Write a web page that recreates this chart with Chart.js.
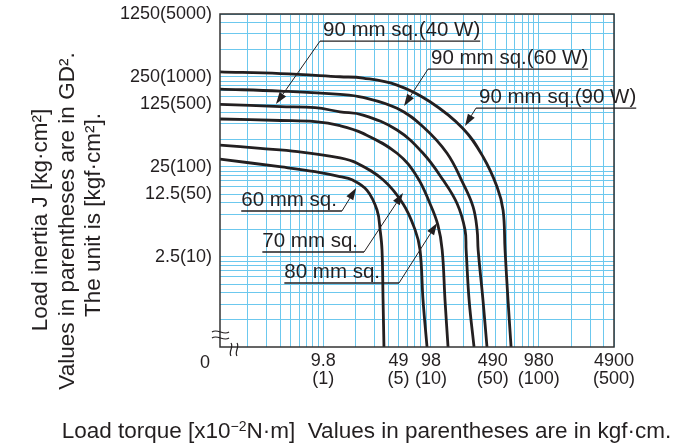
<!DOCTYPE html>
<html>
<head>
<meta charset="utf-8">
<script src="https://cdn.jsdelivr.net/npm/chart.js@4/dist/chart.umd.min.js"></script>
<style>
  html, body { margin: 0; padding: 0; background: #fff; }
  #wrap { width: 681px; height: 446px; position: relative; }
</style>
</head>
<body>
<div id="wrap"><canvas id="myChart"></canvas></div>
<script>
// x: load torque in kgf·cm, y: load inertia as GD² in kgf·cm²
const torqueTicks = [1, 5, 10, 50, 100, 500];
const torqueNmLabels = ['9.8', '49', '98', '490', '980', '4900'];
const torqueKgfLabels = ['(1)', '(5)', '(10)', '(50)', '(100)', '(500)'];
const inertiaTicks = [10, 50, 100, 500, 1000, 5000];
const inertiaLabels = ['2.5(10)', '12.5(50)', '25(100)', '125(500)', '250(1000)', '1250(5000)'];

const seriesNames = ['60 mm sq.', '70 mm sq.', '80 mm sq.', '90 mm sq.(40 W)', '90 mm sq.(60 W)', '90 mm sq.(90 W)'];

const sq60Torque = [0.11, 0.41, 0.84, 1.43, 1.85, 2.55, 3.16, 3.37, 3.51, 3.59, 3.66];
const sq60Gd2 = [122, 100, 88.5, 78, 72, 55, 33, 20, 12, 3.3, 1];

const sq70Torque = [0.11, 0.26, 0.58, 1.43, 2.06, 3.59, 5.5, 7.12, 7.91, 8.44, 9.19];
const sq70Gd2 = [175, 161, 148, 126, 110, 72, 39, 20, 12, 3.3, 1];

const sq80Torque = [0.11, 0.4, 0.84, 1.43, 2.34, 4.84, 7.42, 9.8, 11.6, 12.7, 13.5, 14.4];
const sq80Gd2 = [341, 328, 318, 287, 236, 142, 78, 39, 22.6, 12, 3.3, 1];

const sq90w40Torque = [0.11, 0.4, 0.84, 1.43, 2.34, 4.84, 8.44, 12.9, 17.5, 20.7, 21.2, 22.6, 25.1];
const sq90w40Gd2 = [496, 469, 455, 410, 377, 257, 142, 72, 39, 20, 12, 3.3, 1];

const sq90w60Torque = [0.11, 0.4, 1.43, 2.34, 4.84, 8.44, 14.1, 19.8, 24.6, 26.8, 27.4, 30.4, 33.1];
const sq90w60Gd2 = [733, 697, 641, 593, 448, 280, 142, 66, 36, 20, 12, 3.3, 1];

const sq90w90Torque = [0.11, 0.4, 1.43, 2.34, 4.84, 9.8, 19.8, 30.4, 41.1, 46.7, 48.7, 51.9, 55.4];
const sq90w90Gd2 = [1140, 1090, 1005, 972, 812, 530, 268, 130, 60, 33, 12, 3.3, 1];

const ink = '#231f20';
const gridBlue = '#6cc8ee';
const family = '"Liberation Sans", Arial, Helvetica, sans-serif';
const font = size => `${size}px ${family}`;

Chart.defaults.font.family = family;
Chart.defaults.color = ink;

function gridValues(from, to) {
  const out = [];
  for (let e = -2; e <= 4; e++) {
    for (let m = 1; m <= 9; m++) {
      const v = +(m * Math.pow(10, e)).toPrecision(6);
      if (v >= from && v <= to) out.push(v);
    }
  }
  return out;
}

function pairs(xs, ys) {
  return xs.map((x, i) => ({ x: x, y: ys[i] }));
}

// callout labels, placed in data space (torque, GD²)
const callouts = [
  { text: '90 mm sq.(40 W)', at: [0.933, 2500], tip: [0.364, 500], side: 'left' },
  { text: '90 mm sq.(60 W)', at: [9.39, 1223], tip: [5.62, 475], side: 'left' },
  { text: '90 mm sq.(90 W)', at: [26.2, 451], tip: [20.7, 285], side: 'left' },
  { text: '60 mm sq.', at: [1.49, 32.4], tip: [2.02, 58.3], side: 'right', gap: 5 },
  { text: '70 mm sq.', at: [2.39, 11.35], tip: [5.5, 51.3], side: 'right', gap: 6 },
  { text: '80 mm sq.', at: [5.05, 5.14], tip: [11.4, 23.8], side: 'right', gap: 19 }
];

function squiggleH(ctx, x0, y, len) {
  ctx.beginPath();
  ctx.moveTo(x0, y);
  ctx.bezierCurveTo(x0 + len / 3, y - 4, x0 + 2 * len / 3, y + 4, x0 + len, y);
  ctx.stroke();
}
function squiggleV(ctx, x, y0, len) {
  ctx.beginPath();
  ctx.moveTo(x, y0);
  ctx.bezierCurveTo(x + 3, y0 + len / 3, x - 3, y0 + 2 * len / 3, x, y0 + len);
  ctx.stroke();
}

const decorations = {
  id: 'decorations',
  afterDraw(chart) {
    const { ctx, chartArea: a, scales: { x, y } } = chart;
    ctx.save();

    // frame
    ctx.strokeStyle = '#333';
    ctx.lineWidth = 1.5;
    ctx.strokeRect(a.left, a.top, a.right - a.left, a.bottom - a.top);

    // axis break marks at the origin
    ctx.lineWidth = 1.2;
    ctx.strokeStyle = ink;
    squiggleH(ctx, a.left - 8, a.bottom - 15, 17);
    squiggleH(ctx, a.left - 8, a.bottom - 9, 17);
    squiggleV(ctx, a.left + 11, a.bottom - 4, 13);
    squiggleV(ctx, a.left + 17, a.bottom - 4, 13);

    ctx.fillStyle = ink;
    ctx.font = font(18);
    ctx.textAlign = 'center';
    ctx.textBaseline = 'middle';
    ctx.fillText('0', a.left - 15, a.bottom + 16);

    // callouts
    ctx.font = font(20.5);
    ctx.textBaseline = 'alphabetic';
    ctx.textAlign = 'left';
    callouts.forEach(c => {
      const ax = x.getPixelForValue(c.at[0]), ay = y.getPixelForValue(c.at[1]);
      const tx = x.getPixelForValue(c.tip[0]), ty = y.getPixelForValue(c.tip[1]);
      const w = ctx.measureText(c.text).width;
      let x0, x1, textX;
      if (c.side === 'left') {
        x0 = ax; x1 = ax + w + 3; textX = ax + 3;
      } else {
        x1 = ax; x0 = ax - w - c.gap; textX = x0;
      }
      ctx.lineWidth = 1.3;
      ctx.beginPath(); ctx.moveTo(x0, ay); ctx.lineTo(x1, ay); ctx.stroke();
      ctx.fillText(c.text, textX, ay - 5);

      const ang = Math.atan2(ty - ay, tx - ax);
      const len = 12, half = 4;
      const bx = tx - len * Math.cos(ang), by = ty - len * Math.sin(ang);
      ctx.lineWidth = 1;
      ctx.beginPath(); ctx.moveTo(ax, ay); ctx.lineTo(bx, by); ctx.stroke();
      ctx.beginPath();
      ctx.moveTo(tx, ty);
      ctx.lineTo(bx + half * Math.sin(ang), by - half * Math.cos(ang));
      ctx.lineTo(bx - half * Math.sin(ang), by + half * Math.cos(ang));
      ctx.closePath();
      ctx.fill();
    });

    // x axis title with superscript
    const big = font(22.5), small = font(14);
    const p1 = 'Load torque [x10', p2 = '\u22122', p3 = 'N\u00b7m]  Values in parentheses are in kgf\u00b7cm.';
    ctx.font = big; const w1 = ctx.measureText(p1).width, w3 = ctx.measureText(p3).width;
    ctx.font = small; const w2 = ctx.measureText(p2).width;
    let sx = 366.5 - (w1 + w2 + w3) / 2;
    const base = 438;
    ctx.font = big; ctx.fillText(p1, sx, base); sx += w1;
    ctx.font = small; ctx.fillText(p2, sx, base - 7); sx += w2;
    ctx.font = big; ctx.fillText(p3, sx, base);

    // y axis title, three rotated lines
    const yLines = ['Load inertia J [kg\u00b7cm\u00b2]', 'Values in parentheses are in GD\u00b2.', 'The unit is [kgf\u00b7cm\u00b2].'];
    const yCols = [41, 67.5, 94];
    const yMid = [220, 221, 215];
    ctx.font = big;
    ctx.textAlign = 'center';
    ctx.textBaseline = 'middle';
    yLines.forEach((t, i) => {
      ctx.save();
      ctx.translate(yCols[i], yMid[i]);
      ctx.rotate(-Math.PI / 2);
      ctx.fillText(t, 0, 0);
      ctx.restore();
    });

    ctx.restore();
  }
};

const curves = [
  [sq60Torque, sq60Gd2], [sq70Torque, sq70Gd2], [sq80Torque, sq80Gd2],
  [sq90w40Torque, sq90w40Gd2], [sq90w60Torque, sq90w60Gd2], [sq90w90Torque, sq90w90Gd2]
];

const ctx = document.getElementById('myChart').getContext('2d');
new Chart(ctx, {
  type: 'line',
  data: {
    datasets: curves.map((c, i) => ({
      label: seriesNames[i],
      data: pairs(c[0], c[1]),
      borderColor: ink,
      borderWidth: 2.8,
      pointRadius: 0,
      fill: false,
      tension: 0.4
    }))
  },
  options: {
    responsive: true,
    maintainAspectRatio: false,
    animation: false,
    layout: { padding: { top: 14, right: 67, bottom: 0, left: 0 } },
    plugins: {
      legend: { display: false },
      tooltip: { enabled: false }
    },
    scales: {
      x: {
        type: 'logarithmic',
        min: 0.11,
        max: 500,
        afterBuildTicks: s => { s.ticks = gridValues(0.2, 500).map(v => ({ value: v })); },
        afterFit: s => { s.height = 99; s.paddingLeft = 0; s.paddingRight = 0; },
        grid: { color: gridBlue, lineWidth: 1, drawTicks: false },
        border: { display: false },
        ticks: {
          autoSkip: false,
          maxRotation: 0,
          minRotation: 0,
          padding: 5,
          color: ink,
          font: { size: 18, lineHeight: 1 },
          callback: v => {
            const i = torqueTicks.indexOf(v);
            if (i < 0) return '';
            // nudge the crowded 490/980 pair apart
            const pad = v === 50 ? '\u2002\u2002\u2002' : '';
            return [torqueNmLabels[i] + pad, torqueKgfLabels[i] + pad];
          }
        }
      },
      y: {
        type: 'logarithmic',
        min: 1,
        max: 5000,
        afterBuildTicks: s => { s.ticks = gridValues(2, 5000).map(v => ({ value: v })); },
        afterFit: s => { s.width = 220; s.paddingTop = 0; s.paddingBottom = 0; },
        grid: { color: gridBlue, lineWidth: 1, drawTicks: false },
        border: { display: false },
        ticks: {
          autoSkip: false,
          padding: 8,
          color: ink,
          font: { size: 18 },
          callback: v => {
            const i = inertiaTicks.indexOf(v);
            return i < 0 ? '' : inertiaLabels[i];
          }
        }
      }
    }
  },
  plugins: [decorations]
});
</script>
</body>
</html>
